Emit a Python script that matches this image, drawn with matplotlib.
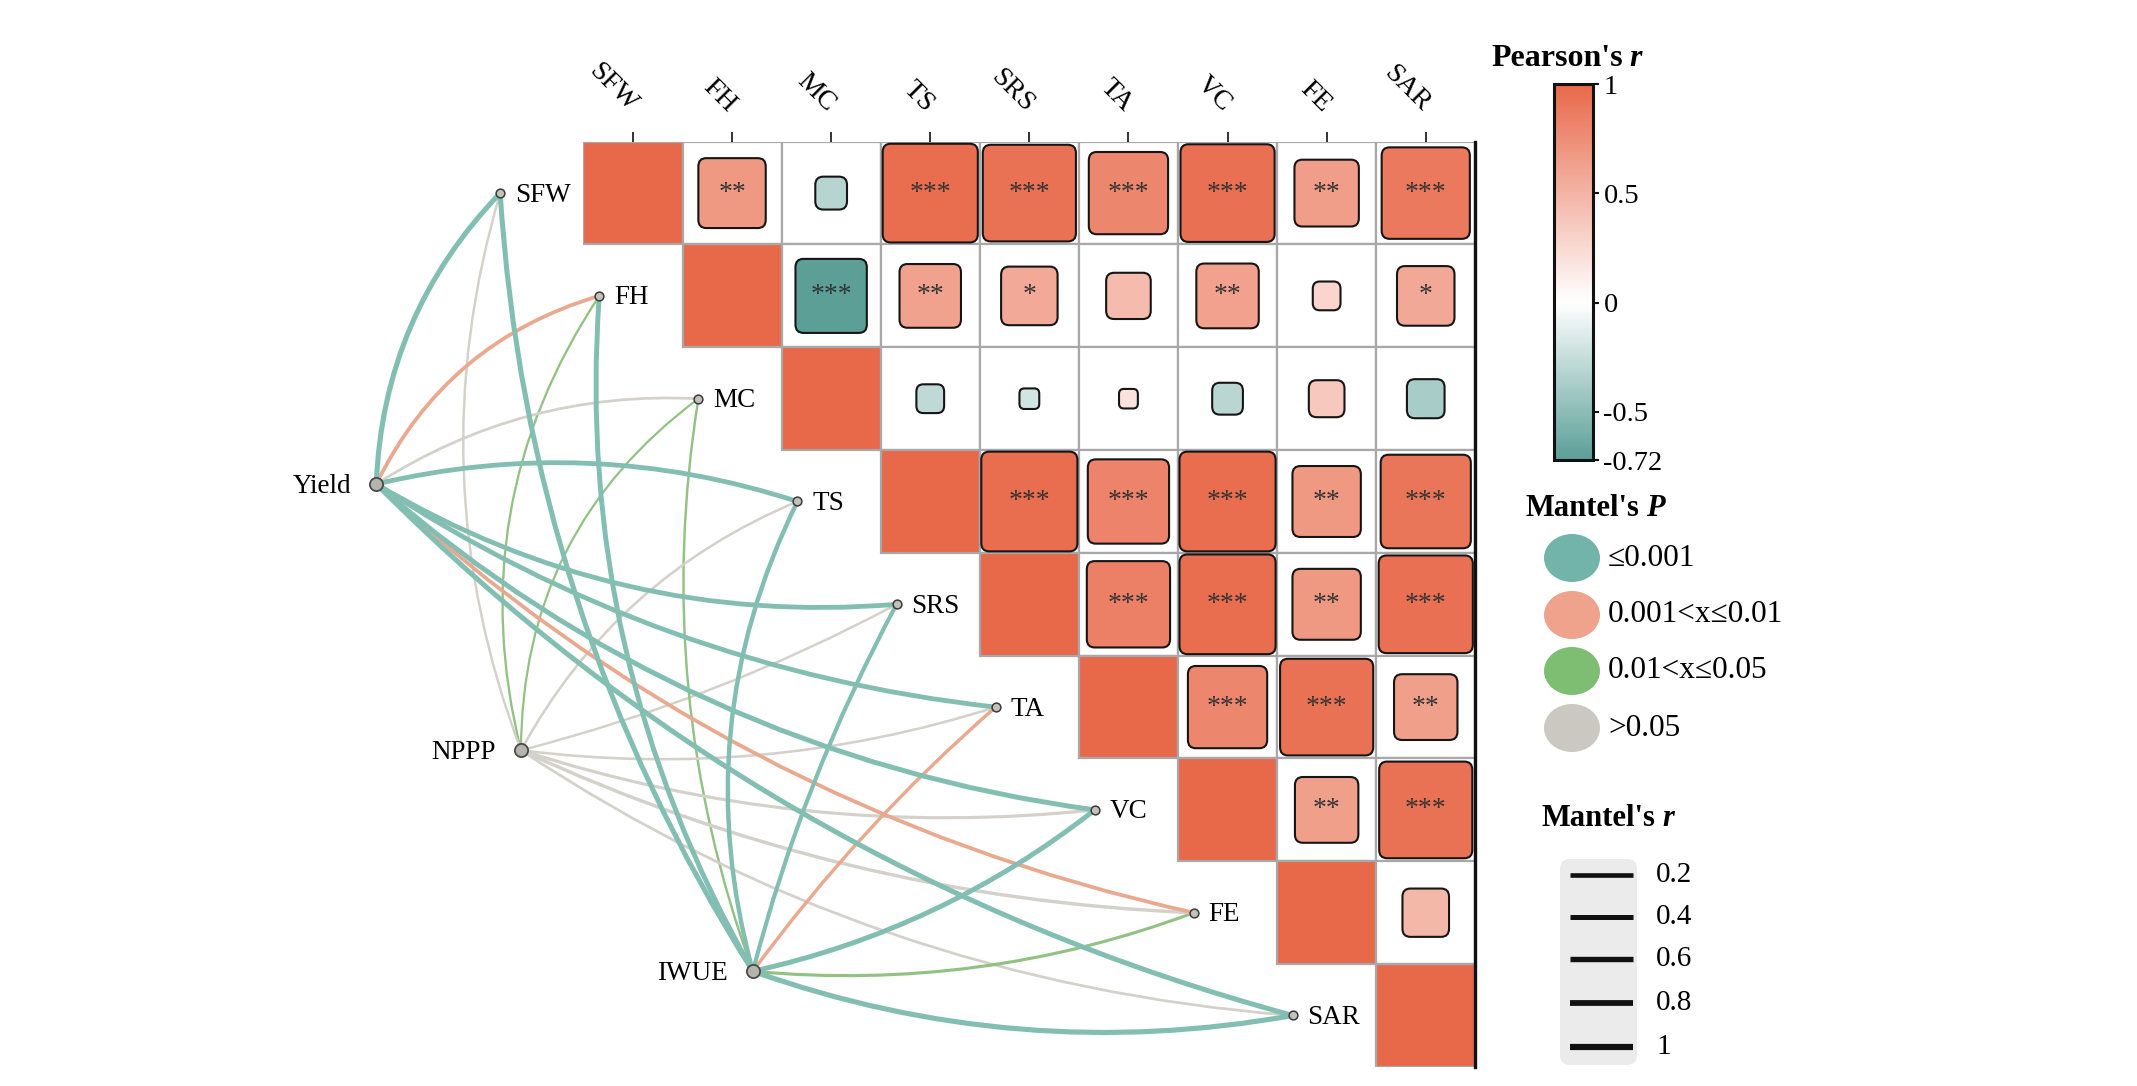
import numpy as np
import matplotlib
matplotlib.use("Agg")
import matplotlib.pyplot as plt
from matplotlib.colors import LinearSegmentedColormap, Normalize
from matplotlib.patches import FancyBboxPatch, Rectangle, Ellipse, PathPatch
from matplotlib.path import Path
from matplotlib.cm import ScalarMappable

plt.rcParams['font.family'] = ['Liberation Serif', 'DejaVu Serif']

# ---------------- data ----------------
env_vars = ["SFW", "FH", "MC", "TS", "SRS", "TA", "VC", "FE", "SAR"]
spec_vars = ["Yield", "NPPP", "IWUE"]

# Pearson's r, upper triangle (values right of the diagonal, row by row)
r_SFW = [0.68, -0.32, 0.96, 0.94, 0.80, 0.95, 0.65, 0.89]
r_FH = [-0.72, 0.62, 0.57, 0.45, 0.63, 0.28, 0.58]
r_MC = [-0.28, -0.20, 0.19, -0.31, 0.36, -0.38]
r_TS = [0.97, 0.82, 0.97, 0.69, 0.91]
r_SRS = [0.84, 0.97, 0.69, 0.95]
r_TA = [0.80, 0.94, 0.64]
r_VC = [0.64, 0.94]
r_FE = [0.47]
r_SAR = []

sig_SFW = ["**", "", "***", "***", "***", "***", "**", "***"]
sig_FH = ["***", "**", "*", "", "**", "", "*"]
sig_MC = ["", "", "", "", "", ""]
sig_TS = ["***", "***", "***", "**", "***"]
sig_SRS = ["***", "***", "**", "***"]
sig_TA = ["***", "***", "**"]
sig_VC = ["**", "***"]
sig_FE = [""]
sig_SAR = []

# Mantel test: r and P category (0: <=0.001, 1: 0.001-0.01, 2: 0.01-0.05, 3: >0.05)
mantel_r_Yield = [0.80, 0.48, 0.24, 0.72, 0.72, 0.72, 0.76, 0.48, 0.78]
mantel_r_NPPP = [0.17, 0.14, 0.12, 0.20, 0.17, 0.20, 0.33, 0.40, 0.24]
mantel_r_IWUE = [0.78, 0.75, 0.17, 0.64, 0.57, 0.40, 0.76, 0.33, 0.80]
mantel_p_Yield = [0, 1, 3, 0, 0, 0, 0, 1, 0]
mantel_p_NPPP = [3, 2, 2, 3, 3, 3, 3, 3, 3]
mantel_p_IWUE = [0, 0, 2, 0, 0, 1, 0, 2, 0]

p_labels = ["\u22640.001", "0.001<x\u22640.01", "0.01<x\u22640.05", ">0.05"]
r_legend_vals = [0.2, 0.4, 0.6, 0.8, 1]
cbar_ticks = [1, 0.5, 0, -0.5, -0.72]
cbar_ticklabels = ["1", "0.5", "0", "-0.5", "-0.72"]

# ---------------- style / layout ----------------
W, H, DPI = 2137, 1086, 100
GX0, GY0, CW, CH = 583.4, 141.7, 99.1, 102.8
ORANGE, TEAL = "#E8694A", "#5B9F97"
EDGE_COL = ["#83BEB3", "#E9A98F", "#92C283", "#D4D0CA"]
KEY_COL = ["#72B3AA", "#EFA38C", "#7DBE72", "#CAC8C0"]
SPEC_POS = {"Yield": (-2.09, 3.33), "NPPP": (-0.63, 5.92), "IWUE": (1.71, 8.07)}
ENV_DX = -0.84
bend_Yield = [0.095, 0.11, 0.08, 0.07, -0.08, -0.06, -0.075, -0.068, -0.067]
bend_NPPP = [0.084, 0.11, 0.125, 0.088, -0.03, -0.055, -0.053, -0.05, -0.065]
bend_IWUE = [0.064, 0.076, 0.065, 0.095, 0.03, 0.028, -0.057, -0.057, -0.066]


def edge_lw(r):
    return (1.7 + 4.3 * r) * 0.72


def key_lw(r):
    return (4.2 + 2.0 * r) * 0.72


vmin, vmax = -0.72, 1.0
cmap = LinearSegmentedColormap.from_list(
    "pr", [(0.0, TEAL), ((0 - vmin) / (vmax - vmin), "#FFFFFF"), (1.0, ORANGE)])
norm = Normalize(vmin, vmax)

fig = plt.figure(figsize=(W / DPI, H / DPI), dpi=DPI)
n = len(env_vars)
ax = fig.add_axes([GX0 / W, 1 - (GY0 + n * CH) / H, n * CW / W, n * CH / H])
ax.set_xlim(0, n)
ax.set_ylim(n, 0)
ax.patch.set_visible(False)

rows_r = [r_SFW, r_FH, r_MC, r_TS, r_SRS, r_TA, r_VC, r_FE, r_SAR]
rows_sig = [sig_SFW, sig_FH, sig_MC, sig_TS, sig_SRS, sig_TA, sig_VC, sig_FE, sig_SAR]
R = np.eye(n)
S = [["" for _ in range(n)] for _ in range(n)]
for i in range(n):
    for k, v in enumerate(rows_r[i]):
        R[i, i + 1 + k] = v
        S[i][i + 1 + k] = rows_sig[i][k]

# cells
for i in range(n):
    for j in range(i, n):
        fc = cmap(norm(1.0)) if i == j else "white"
        ax.add_patch(Rectangle((j, i), 1, 1, facecolor=fc, edgecolor="#A8A8A8",
                               lw=1.6, zorder=1))
for i in range(n):
    for j in range(i + 1, n):
        v = R[i, j]
        s = abs(v)
        rs = min(0.08, s * 0.25)
        ax.add_patch(FancyBboxPatch((j + 0.5 - s / 2, i + 0.5 - s / 2), s, s,
                                    boxstyle=f"round,pad=0,rounding_size={rs}",
                                    facecolor=cmap(norm(v)), edgecolor="#151515",
                                    lw=1.5, zorder=2))
        if S[i][j]:
            ax.text(j + 0.5, i + 0.5, S[i][j], ha="center", va="center",
                    fontsize=20, color="#333333", zorder=3)

# axes decoration
ax.set_yticks([])
ax.set_xticks(np.arange(n) + 0.5)
ax.tick_params(axis="x", top=True, bottom=False, labeltop=True, labelbottom=False,
               length=7.2, width=1.3, color="#222222", pad=17)
ax.set_xticklabels(env_vars, rotation=-45, ha="right", va="center",
                   rotation_mode="anchor", fontsize=20)
for sp in ["left", "bottom", "top"]:
    ax.spines[sp].set_visible(False)
ax.spines["right"].set_linewidth(2.4)
ax.spines["right"].set_color("#111111")

# network
env_xy = [(i + ENV_DX, i + 0.5) for i in range(n)]
mr = {"Yield": mantel_r_Yield, "NPPP": mantel_r_NPPP, "IWUE": mantel_r_IWUE}
mp = {"Yield": mantel_p_Yield, "NPPP": mantel_p_NPPP, "IWUE": mantel_p_IWUE}
bd = {"Yield": bend_Yield, "NPPP": bend_NPPP, "IWUE": bend_IWUE}
edges = []
for sname in spec_vars:
    for i in range(n):
        edges.append((sname, i, mr[sname][i], mp[sname][i], bd[sname][i]))
edges.sort(key=lambda e: e[2])
for sname, i, rr, pc, b in edges:
    x0, y0 = SPEC_POS[sname]
    x2, y2 = env_xy[i]
    px0, py0, px2, py2 = x0 * CW, y0 * CH, x2 * CW, y2 * CH
    dx, dy = px2 - px0, py2 - py0
    cx = (px0 + px2) / 2 + 2 * b * dy
    cy = (py0 + py2) / 2 - 2 * b * dx
    path = Path([(x0, y0), (cx / CW, cy / CH), (x2, y2)],
                [Path.MOVETO, Path.CURVE3, Path.CURVE3])
    ax.add_patch(PathPatch(path, facecolor="none", edgecolor=EDGE_COL[pc],
                           lw=edge_lw(rr), capstyle="round", clip_on=False,
                           zorder=4))

for i, (x, y) in enumerate(env_xy):
    ax.plot(x, y, marker="o", ms=6.3, mfc="#C4C1B9", mec="#3A3A3A", mew=1.1,
            clip_on=False, zorder=6)
    ax.annotate(env_vars[i], (x, y), xytext=(10.5, -1.5), textcoords="offset points",
                ha="left", va="center", fontsize=19.5, annotation_clip=False)
for sname in spec_vars:
    x, y = SPEC_POS[sname]
    ax.plot(x, y, marker="o", ms=9.5, mfc="#B4B3AC", mec="#4A4A4A", mew=1.3,
            clip_on=False, zorder=6)
    ax.annotate(sname, (x, y), xytext=(-18, -1.5), textcoords="offset points",
                ha="right", va="center", fontsize=19.5, annotation_clip=False)

# colorbar
cax = fig.add_axes([1554 / W, 1 - 460 / H, 39 / W, (460 - 84) / H])
cb = fig.colorbar(ScalarMappable(norm=norm, cmap=cmap), cax=cax, ticks=cbar_ticks)
cb.ax.set_yticklabels(cbar_ticklabels)
cb.outline.set_linewidth(2.2)
cb.outline.set_edgecolor("#111111")
cax.tick_params(length=4.5, width=1.5, labelsize=20.5, pad=3, color="#111111")

# legend overlay
lax = fig.add_axes([0, 0, 1, 1])
lax.set_xlim(0, W)
lax.set_ylim(H, 0)
lax.axis("off")


def bold_title(x, y, main, var, size):
    t = lax.text(x, y, main, fontweight="bold", fontsize=size, ha="left",
                 va="baseline")
    lax.annotate(var, xy=(1, 0), xycoords=t, xytext=(5, 0),
                 textcoords="offset points", fontweight="bold", fontstyle="italic",
                 fontsize=size, ha="left", va="bottom")


bold_title(1491, 66, "Pearson's", "r", 23)
bold_title(1525, 516, "Mantel's", "P", 22)
bold_title(1542, 826, "Mantel's", "r", 22)

key_y = [558, 615, 671, 728]
for k, lab in enumerate(p_labels):
    lax.add_patch(Ellipse((1572, key_y[k]), 56, 48, facecolor=KEY_COL[k],
                          edgecolor="none"))
    lax.text(1608, key_y[k], lab, ha="left", va="center", fontsize=22.5)

lax.add_patch(FancyBboxPatch((1560, 859), 77, 206,
                             boxstyle="round,pad=0,rounding_size=10",
                             facecolor="#EBEBEB", edgecolor="none"))
line_y = [875, 916.5, 959, 1003, 1047]
for k, v in enumerate(r_legend_vals):
    lax.plot([1570, 1633], [line_y[k], line_y[k]], color="#111111",
             lw=key_lw(v), solid_capstyle="butt")
    lax.text(1656, line_y[k], f"{v:g}", ha="left", va="center", fontsize=21)

fig.savefig("out.png", dpi=DPI, facecolor="white")
